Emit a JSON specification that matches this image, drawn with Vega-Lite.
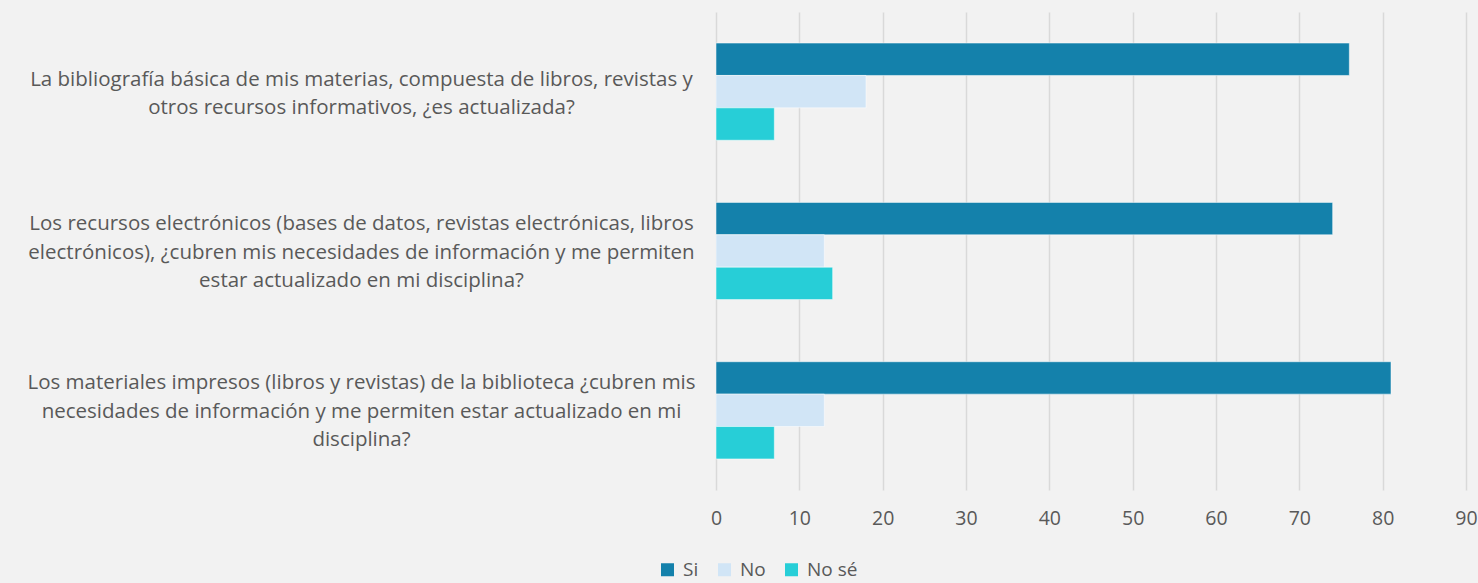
{
  "$schema": "https://vega.github.io/schema/vega-lite/v6.json",
  "autosize": "none",
  "width": 750,
  "height": 478,
  "padding": {"left": 716, "top": 12, "right": 12, "bottom": 93},
  "background": "#f2f2f2",
  "config": {
    "view": {"stroke": null},
    "font": "Open Sans"
  },
  "data": {
    "values": [
      {"q": "A", "serie": "Si", "valor": 76},
      {"q": "A", "serie": "No", "valor": 18},
      {"q": "A", "serie": "No sé", "valor": 7},
      {"q": "B", "serie": "Si", "valor": 74},
      {"q": "B", "serie": "No", "valor": 13},
      {"q": "B", "serie": "No sé", "valor": 14},
      {"q": "C", "serie": "Si", "valor": 81},
      {"q": "C", "serie": "No", "valor": 13},
      {"q": "C", "serie": "No sé", "valor": 7}
    ]
  },
  "mark": {"type": "bar", "stroke": "white", "strokeWidth": 1, "strokeOpacity": 0.5},
  "encoding": {
    "y": {
      "field": "q",
      "type": "nominal",
      "sort": ["A", "B", "C"],
      "scale": {"paddingInner": 0.39, "paddingOuter": 0.195},
      "axis": {
        "title": null,
        "domain": false,
        "ticks": false,
        "grid": false,
        "labelAlign": "center",
        "labelBaseline": "middle",
        "labelPadding": 355,
        "labelLimit": 0,
        "labelFontSize": 20.5,
        "labelColor": "#595959",
        "labelLineHeight": 28.5,
        "labelOffset": {"condition": {"test": "datum.value == 'A'", "value": -12}, "value": -27},
        "labelExpr": "datum.value == 'A' ? ['La bibliografía básica de mis materias, compuesta de libros, revistas y', 'otros recursos informativos, ¿es actualizada?'] : datum.value == 'B' ? ['Los recursos electrónicos (bases de datos, revistas electrónicas, libros', 'electrónicos), ¿cubren mis necesidades de información y me permiten', 'estar actualizado en mi disciplina?'] : ['Los materiales impresos (libros y revistas) de la biblioteca ¿cubren mis', 'necesidades de información y me permiten estar actualizado en mi', 'disciplina?']"
      }
    },
    "yOffset": {
      "field": "serie",
      "type": "nominal",
      "sort": ["Si", "No", "No sé"],
      "scale": {"paddingInner": 0, "paddingOuter": 0}
    },
    "x": {
      "field": "valor",
      "type": "quantitative",
      "scale": {"domain": [0, 90], "nice": false},
      "axis": {
        "title": null,
        "values": [0, 10, 20, 30, 40, 50, 60, 70, 80, 90],
        "domain": false,
        "ticks": false,
        "grid": true,
        "gridColor": "#d9d9d9",
        "gridWidth": 1.5,
        "labelFontSize": 19.5,
        "labelColor": "#595959",
        "labelPadding": 19,
        "labelFlush": false
      }
    },
    "color": {
      "field": "serie",
      "type": "nominal",
      "sort": ["Si", "No", "No sé"],
      "scale": {"domain": ["Si", "No", "No sé"], "range": ["#1481ab", "#d1e5f6", "#27ced7"]},
      "legend": {
        "title": null,
        "orient": "none",
        "direction": "horizontal",
        "legendX": -58,
        "legendY": 548,
        "symbolType": "square",
        "symbolSize": 169,
        "symbolStrokeWidth": 0,
        "labelFontSize": 19,
        "labelColor": "#595959",
        "labelOffset": 6,
        "columnPadding": 16
      }
    }
  }
}
